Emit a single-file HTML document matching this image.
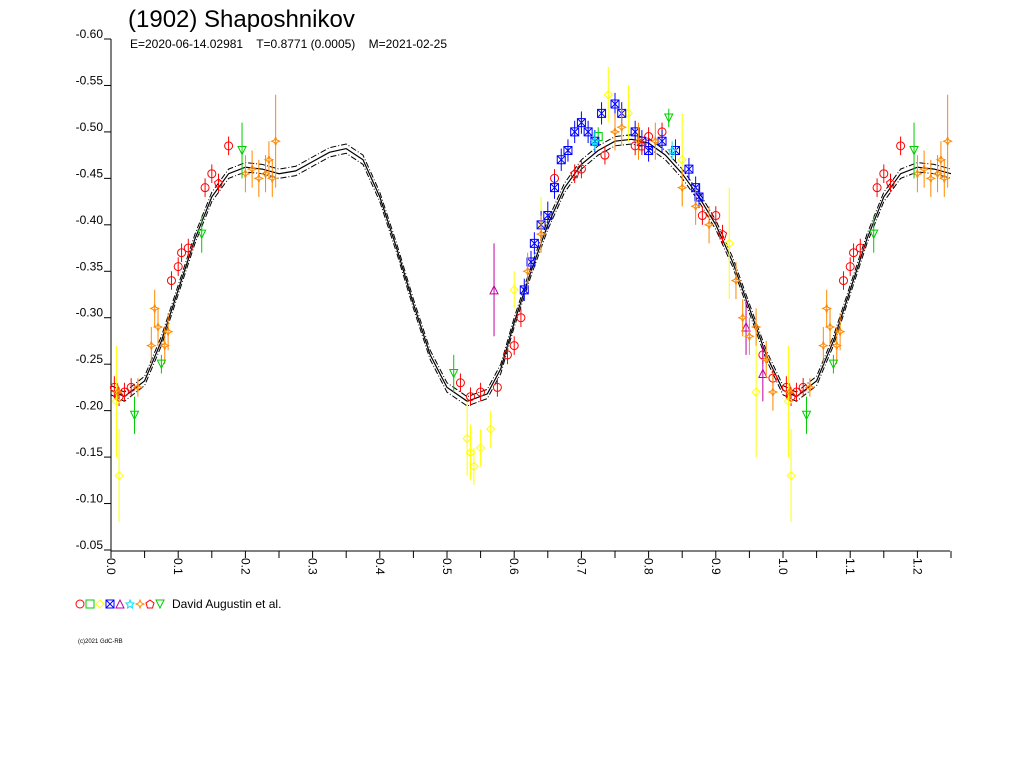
<!DOCTYPE html>
<html><head><meta charset="utf-8"><style>
body{margin:0;background:#fff;width:1024px;height:768px;overflow:hidden;font-family:"Liberation Sans",sans-serif}
svg{display:block}
</style></head><body>
<svg id="chart" width="1024" height="768" viewBox="0 0 1024 768" xmlns="http://www.w3.org/2000/svg">
<text x="128" y="27" font-size="24" font-family="Liberation Sans, sans-serif">(1902) Shaposhnikov</text>
<text x="130" y="48" font-size="12" font-family="Liberation Sans, sans-serif" xml:space="preserve">E=2020-06-14.02981    T=0.8771 (0.0005)    M=2021-02-25</text>
<g id="axes"></g><g id="curve"></g><g id="points"></g>
<g id="legend"></g>
<text x="78" y="643" font-size="6" font-family="Liberation Sans, sans-serif">(c)2021 GdC-RB</text>
</svg>
<script>
const yTicks=[-0.60,-0.55,-0.50,-0.45,-0.40,-0.35,-0.30,-0.25,-0.20,-0.15,-0.10,-0.05];
const xTicks=[0.0,0.1,0.2,0.3,0.4,0.5,0.6,0.7,0.8,0.9,1.0,1.1,1.2];
const curvePhase=[0,0.02,0.05,0.075,0.1,0.125,0.15,0.175,0.2,0.225,0.25,0.275,0.3,0.325,0.35,0.375,0.4,0.425,0.45,0.475,0.5,0.53,0.56,0.58,0.6,0.625,0.65,0.675,0.7,0.725,0.75,0.775,0.8,0.825,0.85,0.875,0.9,0.925,0.95,0.975,1.0];
const curveMag=[-0.222,-0.215,-0.232,-0.275,-0.33,-0.385,-0.43,-0.455,-0.462,-0.46,-0.455,-0.458,-0.468,-0.478,-0.482,-0.47,-0.43,-0.375,-0.315,-0.26,-0.225,-0.21,-0.218,-0.245,-0.295,-0.35,-0.4,-0.44,-0.465,-0.48,-0.49,-0.492,-0.488,-0.475,-0.455,-0.43,-0.4,-0.36,-0.31,-0.26,-0.222];
// points: [phase, mag, err]
const s0=[[0.005,-0.225,0.012],[0.012,-0.215,0.01],[0.02,-0.22,0.01],[0.03,-0.225,0.01],[0.09,-0.34,0.01],[0.1,-0.355,0.01],[0.105,-0.37,0.01],[0.115,-0.375,0.01],[0.14,-0.44,0.01],[0.15,-0.455,0.01],[0.175,-0.485,0.01],[0.52,-0.23,0.01],[0.535,-0.215,0.01],[0.55,-0.22,0.01],[0.575,-0.225,0.01],[0.59,-0.26,0.01],[0.6,-0.27,0.01],[0.61,-0.30,0.01],[0.66,-0.45,0.01],[0.7,-0.46,0.01],[0.735,-0.475,0.01],[0.78,-0.485,0.01],[0.8,-0.495,0.01],[0.82,-0.50,0.01],[0.88,-0.41,0.01],[0.9,-0.41,0.01],[0.97,-0.26,0.01],[0.985,-0.235,0.01]];
const s1=[[0.725,-0.495,0.01]];
const s2=[[0.008,-0.21,0.06],[0.012,-0.13,0.05],[0.53,-0.17,0.04],[0.535,-0.155,0.03],[0.54,-0.14,0.02],[0.55,-0.16,0.02],[0.565,-0.18,0.02],[0.6,-0.33,0.02],[0.64,-0.40,0.03],[0.74,-0.54,0.03],[0.77,-0.52,0.03],[0.85,-0.47,0.05],[0.92,-0.38,0.06],[0.96,-0.22,0.07]];
const s3=[[0.615,-0.33,0.012],[0.625,-0.36,0.012],[0.63,-0.38,0.012],[0.64,-0.40,0.015],[0.65,-0.41,0.015],[0.66,-0.44,0.012],[0.67,-0.47,0.012],[0.68,-0.48,0.012],[0.69,-0.50,0.012],[0.7,-0.51,0.012],[0.71,-0.50,0.012],[0.72,-0.49,0.012],[0.73,-0.52,0.012],[0.75,-0.53,0.012],[0.76,-0.52,0.012],[0.78,-0.50,0.012],[0.79,-0.49,0.012],[0.8,-0.48,0.012],[0.82,-0.49,0.012],[0.84,-0.48,0.012],[0.86,-0.46,0.012],[0.87,-0.44,0.012],[0.875,-0.43,0.012]];
const s4=[[0.57,-0.33,0.05],[0.945,-0.29,0.03],[0.97,-0.24,0.03]];
const s5=[[0.72,-0.49,0.01],[0.835,-0.48,0.01]];
const s6=[[0.01,-0.22,0.01],[0.04,-0.225,0.01],[0.06,-0.27,0.02],[0.065,-0.31,0.02],[0.07,-0.29,0.02],[0.08,-0.27,0.02],[0.085,-0.285,0.02],[0.2,-0.455,0.02],[0.21,-0.46,0.02],[0.22,-0.45,0.02],[0.23,-0.455,0.02],[0.235,-0.47,0.02],[0.24,-0.45,0.02],[0.245,-0.49,0.05],[0.62,-0.35,0.02],[0.64,-0.39,0.02],[0.75,-0.50,0.02],[0.76,-0.505,0.02],[0.785,-0.49,0.02],[0.81,-0.49,0.02],[0.85,-0.44,0.02],[0.87,-0.42,0.02],[0.89,-0.40,0.02],[0.93,-0.34,0.02],[0.94,-0.30,0.02],[0.95,-0.28,0.02],[0.96,-0.29,0.02],[0.975,-0.255,0.02],[0.985,-0.22,0.02]];
const s7=[[0.16,-0.445,0.01],[0.69,-0.455,0.01],[0.79,-0.485,0.01],[0.91,-0.39,0.01]];
const s8=[[0.035,-0.195,0.02],[0.075,-0.25,0.01],[0.135,-0.39,0.02],[0.195,-0.48,0.03],[0.51,-0.24,0.02],[0.83,-0.515,0.01]];
const seriesNames=["red-circle","green-square","yellow-diamond","blue-cross-square","magenta-triangle","cyan-star","orange-star","red-pentagon","green-down-triangle"];
const seriesColors=["#ff0000","#00cc00","#ffff00","#0000ff","#c000a0","#00e0ff","#ff8800","#ff0000","#00cc00"];
const seriesData=[s0,s1,s2,s3,s4,s5,s6,s7,s8];

const NS="http://www.w3.org/2000/svg";
const X0=111,X1=950,Y0=39,Y1=551;
const xs=p=>X0+p*672;
const ys=m=>Y0+(m+0.60)/0.55*(550-Y0);
function mk(tag,attrs,parent){const e=document.createElementNS(NS,tag);for(const k in attrs)e.setAttribute(k,attrs[k]);parent.appendChild(e);return e;}
const axes=document.getElementById('axes');
let e=mk('line',{x1:X0,y1:Y0,x2:X0,y2:Y1,stroke:'#000'},axes);


e=mk('line',{x1:X0,y1:Y1,x2:X1,y2:Y1,stroke:'#000'},axes);


yTicks.forEach(v=>{const y=ys(v);
 mk('line',{x1:X0-7,y1:y,x2:X0,y2:y,stroke:'#000'},axes);
 const t=mk('text',{x:X0-8,y:y-1,'text-anchor':'end','font-size':12},axes);
 
 
 t.textContent=v.toFixed(2);});
for(let i=0;i<=25;i++){const x=xs(i*0.05);mk('line',{x1:x,y1:Y1,x2:x,y2:Y1+7,stroke:'#000'},axes);}
xTicks.forEach(v=>{const x=xs(v);
 const t=mk('text',{x:x-4,y:558,'font-size':12,transform:`rotate(90 ${x-4} 558)`},axes);
 
 
 t.textContent=v.toFixed(1);});
// curve
const cg=document.getElementById('curve');
function cpath(off){let pts=[];curvePhase.forEach((p,i)=>pts.push([p,curveMag[i]]));
 curvePhase.forEach((p,i)=>{if(p>0&&p+1<=1.25)pts.push([p+1,curveMag[i]]);});
 if(true){pts.push([1.25,curveMag[10]]);}
 return pts.map((q,i)=>(i?'L':'M')+xs(q[0]).toFixed(1)+' '+ys(q[1]+off).toFixed(1)).join(' ');}
e=mk('path',{d:cpath(0),fill:'none',stroke:'#000','stroke-width':1.2},cg);


[-0.005,0.005].forEach(o=>{e=mk('path',{d:cpath(o),fill:'none',stroke:'#000','stroke-width':1,'stroke-dasharray':'6,2,1,2'},cg);

});
// markers
function marker(g,k,x,y,c){const r=4;
 switch(k){
 case 0:return mk('circle',{cx:x,cy:y,r:r,fill:'none',stroke:c},g);
 case 1:return mk('rect',{x:x-r,y:y-r,width:2*r,height:2*r,fill:'none',stroke:c},g);
 case 2:return mk('polygon',{points:`${x},${y-r} ${x+r},${y} ${x},${y+r} ${x-r},${y}`,fill:'none',stroke:c},g);
 case 3:return mk('path',{d:`M${x-r} ${y-r}L${x+r} ${y+r}M${x+r} ${y-r}L${x-r} ${y+r}M${x-r} ${y-r}h${2*r}v${2*r}h${-2*r}z`,fill:'none',stroke:c},g);
 case 4:return mk('polygon',{points:`${x},${y-r} ${x+r},${y+r} ${x-r},${y+r}`,fill:'none',stroke:c},g);
 case 5:return mk('polygon',{points:`${x},${y-r} ${x+1.2},${y-1.2} ${x+r},${y-1} ${x+2},${y+1.2} ${x+2.5},${y+r} ${x},${y+2.2} ${x-2.5},${y+r} ${x-2},${y+1.2} ${x-r},${y-1} ${x-1.2},${y-1.2}`,fill:'none',stroke:c},g);
 case 6:return mk('polygon',{points:`${x},${y-r} ${x+1.2},${y-1.2} ${x+r},${y} ${x+1.2},${y+1.2} ${x},${y+r} ${x-1.2},${y+1.2} ${x-r},${y} ${x-1.2},${y-1.2}`,fill:'none',stroke:c},g);
 case 7:return mk('polygon',{points:`${x},${y-r} ${x+r},${y-1} ${x+2.5},${y+r} ${x-2.5},${y+r} ${x-r},${y-1}`,fill:'none',stroke:c},g);
 default:return mk('polygon',{points:`${x-r},${y-r} ${x+r},${y-r} ${x},${y+r}`,fill:'none',stroke:c},g);}}
const pg=document.getElementById('points');
seriesData.forEach((arr,k)=>{const g=mk('g',{},pg);
 
 
 arr.forEach(d=>{[0,1].forEach(sh=>{const p=d[0]+sh;if(p>1.25)return;
  const x=xs(p),y=ys(d[1]);
  const b=mk('line',{x1:x,y1:ys(d[1]-d[2]),x2:x,y2:ys(d[1]+d[2]),stroke:seriesColors[k]},g);
  
  
  const m=marker(g,k,x,y,seriesColors[k]);
  
  });});});
// legend
const lg=document.getElementById('legend');
seriesColors.forEach((c,k)=>{const m=marker(lg,k,80+k*10,604,c);
 
 });
e=mk('text',{x:172,y:608,'font-size':12},lg);


e.textContent='David Augustin et al.';
</script>
</body></html>
